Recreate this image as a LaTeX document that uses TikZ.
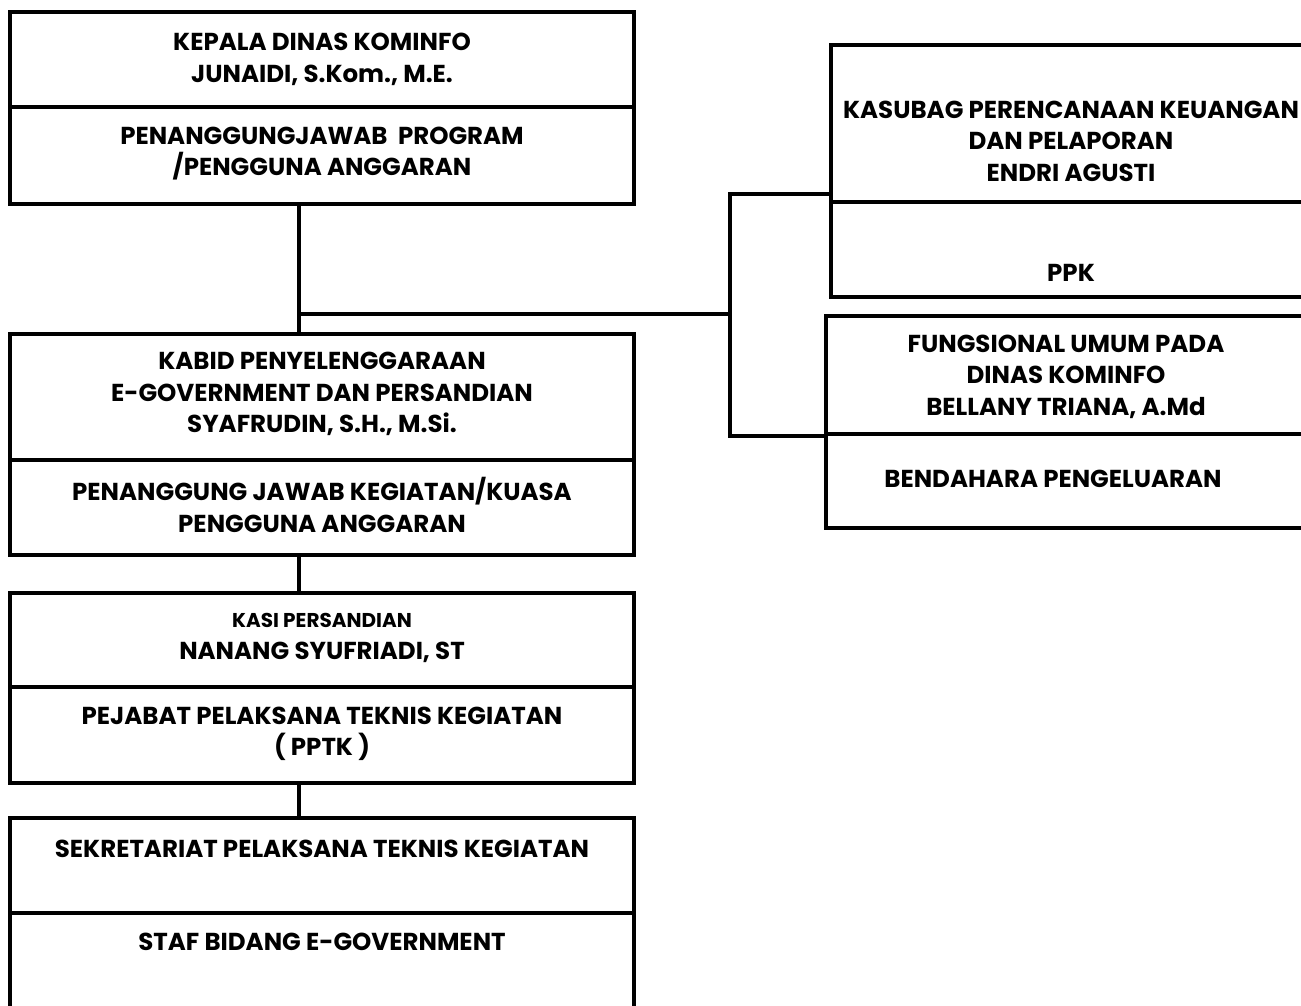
\documentclass[tikz,border=0pt]{standalone}
\usepackage{fontspec}
\newfontfamily\orgfont{Poppins}
\begin{document}
\begin{tikzpicture}[x=1pt,y=-1pt,
  box/.style={draw,line width=3.5pt,inner sep=0pt},
  lbl/.style={font=\orgfont\bfseries\fontsize{24.5}{31.5}\selectfont,align=center,inner sep=0pt},
  link/.style={line width=3.5pt}]
\useasboundingbox (0,0) rectangle (1301,1005);
% left column
\node[box,minimum width=624pt,minimum height=95pt] (b1a) at (322,59.5) {};
\node[box,minimum width=624pt,minimum height=97pt] (b1b) at (322,155.5) {};
\node[lbl] (t1a) at (322,59.5) {KEPALA DINAS KOMINFO\\JUNAIDI, S.Kom., M.E.};
\node[lbl] (t1b) at (322,153.5) {PENANGGUNGJAWAB\ \ PROGRAM\\/PENGGUNA ANGGARAN};

\node[box,minimum width=624pt,minimum height=126pt] (b2a) at (322,397) {};
\node[box,minimum width=624pt,minimum height=95pt] (b2b) at (322,507.5) {};
\node[lbl] (t2a) at (322,394) {KABID PENYELENGGARAAN\\E-GOVERNMENT DAN PERSANDIAN\\SYAFRUDIN, S.H., M.Si.};
\node[lbl] (t2b) at (322,505) {PENANGGUNG JAWAB KEGIATAN/KUASA\\PENGGUNA ANGGARAN};

\node[box,minimum width=624pt,minimum height=94pt] (b3a) at (322,640) {};
\node[box,minimum width=624pt,minimum height=96pt] (b3b) at (322,735) {};
\node[lbl,font=\orgfont\bfseries\fontsize{20}{31.5}\selectfont] (t3a) at (322,620) {KASI PERSANDIAN};
\node[lbl] (t3c) at (322,652) {NANANG SYUFRIADI, ST};
\node[lbl] (t3b) at (322,734) {PEJABAT PELAKSANA TEKNIS KEGIATAN\\( PPTK )};

\node[box,minimum width=624pt,minimum height=95pt] (b4a) at (322,865.5) {};
\node[box,minimum width=624pt,minimum height=110pt] (b4b) at (322,968) {};
\node[lbl] (t4a) at (322,849) {SEKRETARIAT PELAKSANA TEKNIS KEGIATAN};
\node[lbl] (t4b) at (322,942) {STAF BIDANG E-GOVERNMENT};

% right column
\node[box,minimum width=490pt,minimum height=157pt] (r1a) at (1076,123.5) {};
\node[box,minimum width=490pt,minimum height=95pt] (r1b) at (1076,249.5) {};
\node[lbl] (tr1a) at (1071,141) {KASUBAG PERENCANAAN KEUANGAN\\DAN PELAPORAN\\ENDRI AGUSTI};
\node[lbl] (tr1b) at (1071,273) {PPK};

\node[box,minimum width=490pt,minimum height=118pt] (r2a) at (1071,375) {};
\node[box,minimum width=490pt,minimum height=94pt] (r2b) at (1071,481) {};
\node[lbl] (tr2a) at (1066,376.5) {FUNGSIONAL UMUM PADA\\DINAS KOMINFO\\BELLANY TRIANA, A.Md};
\node[lbl] (tr2b) at (1053,479) {BENDAHARA PENGELUARAN};

% connectors
\coordinate (j1) at (299,314);
\coordinate (j2) at (730,314);
\draw[link] (b1b.south -| j1) -- (b2a.north -| j1);
\draw[link] (j1) -- (j2);
\draw[link] (r1a.west |- 0,194) -| (j2) |- (r2a.south west);
\draw[link] (b2b.south -| j1) -- (b3a.north -| j1);
\draw[link] (b3b.south -| j1) -- (b4a.north -| j1);
\end{tikzpicture}
\end{document}
